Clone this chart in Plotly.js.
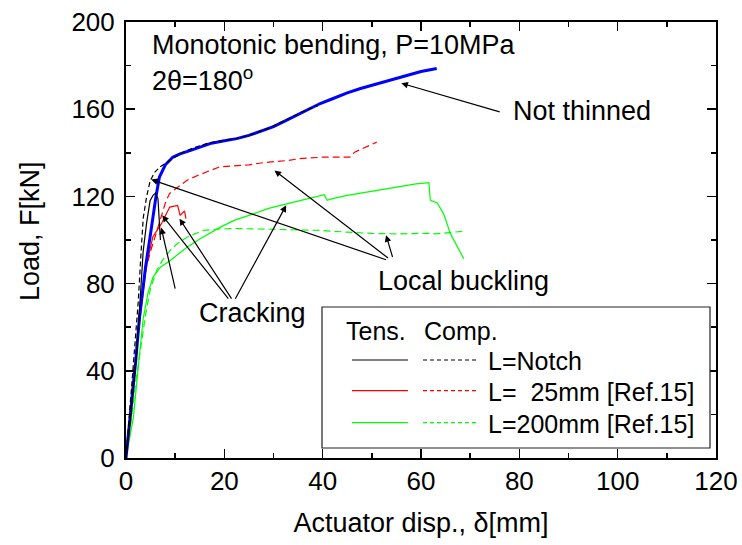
<!DOCTYPE html>
<html>
<head>
<meta charset="utf-8">
<script src="https://cdn.plot.ly/plotly-3.0.1.min.js"></script>
<style>html,body{margin:0;padding:0;background:#fff;}</style>
</head>
<body>
<div id="chart" style="width:742px;height:545px;"></div>
<script>
// ---- Data ----
// Not thinned (blue, thick)
const notThinnedX = [0, 1, 2, 2.75, 4, 5, 5.45, 6.1, 6.8, 8, 9.5, 11, 13.3, 15, 17.1, 20, 22.5, 25, 28, 30, 32.7, 35, 37.5, 39.5, 42, 45, 47.7, 50, 53, 55.8, 58, 60, 63.2];
const notThinnedY = [0, 22, 45, 64.7, 88, 103, 110.5, 120, 128.9, 134.5, 138, 139.5, 141.2, 142.6, 144.2, 145.5, 146.5, 148, 150.3, 152, 155, 157.5, 160.3, 162.6, 164.8, 167.5, 169.5, 171, 173, 174.8, 176.3, 177.3, 178.7];

// L=Notch, tension (solid) and compression (dashed)
const notchTensX = [0, 1, 2.2, 3, 3.5, 4.2, 4.9, 5.5, 6.0, 6.5, 6.8, 7.0];
const notchTensY = [0, 20, 49, 75, 95, 108, 118, 120.5, 121.5, 119, 110, 100];
const notchCompX = [0, 1, 2, 2.5, 3, 3.5, 4.2, 4.9, 5.8, 6.9, 9, 11.7, 14, 17, 20, 23, 26, 29, 32, 35, 37, 39];
const notchCompY = [0, 28, 58, 72, 92, 110, 120, 127, 131, 133.5, 136.6, 140.4, 142.5, 144.6, 145.8, 146.8, 148.8, 151.3, 154.5, 157.8, 160, 161.5];

// L=25mm [Ref.15]
const l25TensX = [0, 1.4, 2.75, 4.1, 5.45, 7.2, 8.9, 10.5, 11.0, 11.6, 11.9, 12.2];
const l25TensY = [0, 34.2, 61.7, 87.6, 101.4, 107.5, 115.1, 115.9, 111.3, 112.8, 113.3, 109.8];
const l25CompX = [0, 1, 2, 3, 4, 5, 6, 7, 8, 8.85, 10.5, 12.4, 15, 19, 22, 25, 28, 30, 33, 35.3, 40, 43, 45.5, 46.5, 48.9, 51];
const l25CompY = [0, 25, 50, 72, 86, 95, 102, 110, 117, 121.3, 124, 127.4, 130, 133.5, 134, 134.5, 135.5, 135.8, 136.5, 137.3, 138, 138, 138, 140.3, 142.6, 144.9];

// L=200mm [Ref.15]
const l200TensX = [0, 1, 1.5, 2.5, 3.5, 4.5, 5.5, 7, 9, 12.4, 15, 19.2, 22, 25.9, 29, 32.7, 36, 39.5, 40.3, 40.9, 42, 45, 49, 52, 55.8, 59, 61.6, 61.9, 63.3, 64.6, 66, 67.4, 68.7];
const l200TensY = [0, 12, 18.5, 42, 64, 76, 83, 87.5, 90.6, 96.7, 100.5, 105.9, 109, 112, 114.5, 116.6, 118.5, 120.3, 120.8, 118.2, 119, 120.5, 122, 123.3, 124.7, 125.7, 126.3, 118.2, 117, 112, 102.8, 96.7, 91.4];
const l200CompX = [0, 1, 2, 2.85, 4, 5, 6.25, 7.5, 9, 10.5, 12.4, 15.7, 19.2, 22, 25.9, 30, 35, 39.5, 45, 50, 55, 58, 61.3, 63, 65, 68.4];
const l200CompY = [0, 16, 35, 49, 66, 78, 86, 91, 95.2, 98.5, 101.3, 104.4, 105.1, 105.3, 105.1, 104.8, 104.5, 104.4, 103.6, 103, 102.8, 102.9, 103.1, 102.8, 103.3, 104];

// Legend / labels
const legendNames = ['L=Notch', 'L=\u00a0\u00a025mm [Ref.15]', 'L=200mm [Ref.15]'];
const legendColors = ['#000000', '#ff0000', '#00ff00'];
const xTitle = 'Actuator disp., \u03b4[mm]';
const yTitle = 'Load, F[kN]';

// ---- Chart ----
const FONT = 'Liberation Sans, Arial, Helvetica, sans-serif';
const thin = 1.2;
function tr(x, y, color, dash, width) {
  return {x: x, y: y, type: 'scatter', mode: 'lines', hoverinfo: 'skip',
          line: {color: color, width: width || thin, dash: dash || 'solid'}};
}
const traces = [
  tr(l200TensX, l200TensY, legendColors[2], 'solid'),
  tr(l200CompX, l200CompY, legendColors[2], '7px,4px'),
  tr(l25TensX, l25TensY, legendColors[1], 'solid'),
  tr(l25CompX, l25CompY, legendColors[1], '7px,4px'),
  tr(notThinnedX, notThinnedY, '#0000ff', 'solid', 3),
  tr(notchTensX, notchTensY, legendColors[0], 'solid'),
  tr(notchCompX, notchCompY, legendColors[0], '5px,3px')
];

// paper helpers (plot area: x 126..716, y 22..458)
const L = 126, R = 716, T = 22, B = 458;
const px = v => (v - L) / (R - L);
const py = v => (B - v) / (B - T);

const shapes = [
  {type: 'rect', xref: 'paper', yref: 'paper', x0: px(322), x1: px(710), y0: py(448), y1: py(307),
   line: {color: '#222', width: 1.2}, fillcolor: '#fff', layer: 'above'}
];
const annotations = [];
const rowY = [360, 390.7, 422.7];
legendNames.forEach((name, i) => {
  shapes.push({type: 'line', xref: 'paper', yref: 'paper', x0: px(352), x1: px(408), y0: py(rowY[i]), y1: py(rowY[i]),
               line: {color: legendColors[i], width: thin}});
  shapes.push({type: 'line', xref: 'paper', yref: 'paper', x0: px(423), x1: px(478), y0: py(rowY[i]), y1: py(rowY[i]),
               line: {color: legendColors[i], width: thin, dash: '4px,3px'}});
  annotations.push({xref: 'paper', yref: 'paper', x: px(486), y: py(rowY[i] + 1), xanchor: 'left', yanchor: 'middle',
                    text: name, showarrow: false, font: {size: 25, family: FONT, color: '#000'}});
});
annotations.push({xref: 'paper', yref: 'paper', x: px(344), y: py(331), xanchor: 'left', yanchor: 'middle',
                  text: 'Tens.', showarrow: false, font: {size: 25, family: FONT, color: '#000'}});
annotations.push({xref: 'paper', yref: 'paper', x: px(422), y: py(331), xanchor: 'left', yanchor: 'middle',
                  text: 'Comp.', showarrow: false, font: {size: 25, family: FONT, color: '#000'}});

// text labels
const tfont = {size: 27, family: FONT, color: '#000'};
function label(x, y, text, anchor) {
  annotations.push({xref: 'paper', yref: 'paper', x: px(x), y: py(y), xanchor: anchor || 'left', yanchor: 'middle',
                    text: text, showarrow: false, font: tfont});
}
label(150, 45, 'Monotonic bending, P=10MPa');
label(150, 79, '2\u03b8=180<sup>o</sup>');
label(511, 111, 'Not thinned');
label(376, 281, 'Local buckling');
label(197, 313, 'Cracking');

// y-axis title placed as rotated text beside the axis
annotations.push({xref: 'paper', yref: 'paper', x: px(30), y: py(231), xanchor: 'center', yanchor: 'middle',
                  text: yTitle, textangle: -90, showarrow: false, font: {size: 27, family: FONT, color: '#000'}});

// arrows (head x,y ; tail ax,ay) in data units
function arrow(x, y, ax, ay) {
  annotations.push({x: x, y: y, ax: ax, ay: ay, xref: 'x', yref: 'y', axref: 'x', ayref: 'y',
                    text: '', showarrow: true, arrowhead: 2, arrowsize: 1.1, arrowwidth: 1.2,
                    arrowcolor: '#000', standoff: 0, startstandoff: 0});
}
arrow(56.0, 171.9, 76.3, 158.6);
arrow(5.13, 127.7, 53.2, 90.7);
arrow(30.2, 131.9, 53.6, 91.2);
arrow(52.9, 102.2, 54.3, 91.5);
arrow(7.16, 105.7, 10.07, 77.0);
arrow(7.36, 111.3, 21.05, 72.4);
arrow(10.88, 109.8, 21.66, 72.4);
arrow(32.58, 115.9, 22.07, 72.4);

const axisCommon = {
  showgrid: false, zeroline: false, showline: true, linecolor: '#000', linewidth: 2, mirror: 'ticks',
  ticks: 'inside', ticklen: 9, tickwidth: 1.5, tickcolor: '#000',
  tickfont: {size: 26, family: FONT, color: '#000'}
};
const layout = {
  width: 742, height: 545,
  margin: {l: L, r: 742 - R, t: T, b: 545 - B, pad: 0},
  paper_bgcolor: '#fff', plot_bgcolor: '#fff',
  showlegend: false,
  font: {family: FONT, color: '#000'},
  xaxis: Object.assign({}, axisCommon, {
    range: [0, 120], tick0: 0, dtick: 20,
    minor: {dtick: 10, ticks: 'inside', ticklen: 5, tickwidth: 1.5, tickcolor: '#000'},
    ticklabelstandoff: -1,
    title: {text: xTitle, font: {size: 27, family: FONT, color: '#000'}, standoff: 18}
  }),
  yaxis: Object.assign({}, axisCommon, {
    range: [0, 200], tick0: 0, dtick: 40,
    minor: {dtick: 20, ticks: 'inside', ticklen: 5, tickwidth: 1.5, tickcolor: '#000'},
    ticklabelstandoff: 4
  }),
  shapes: shapes,
  annotations: annotations
};
Plotly.newPlot('chart', traces, layout, {displayModeBar: false, staticPlot: true});
</script>
</body>
</html>
